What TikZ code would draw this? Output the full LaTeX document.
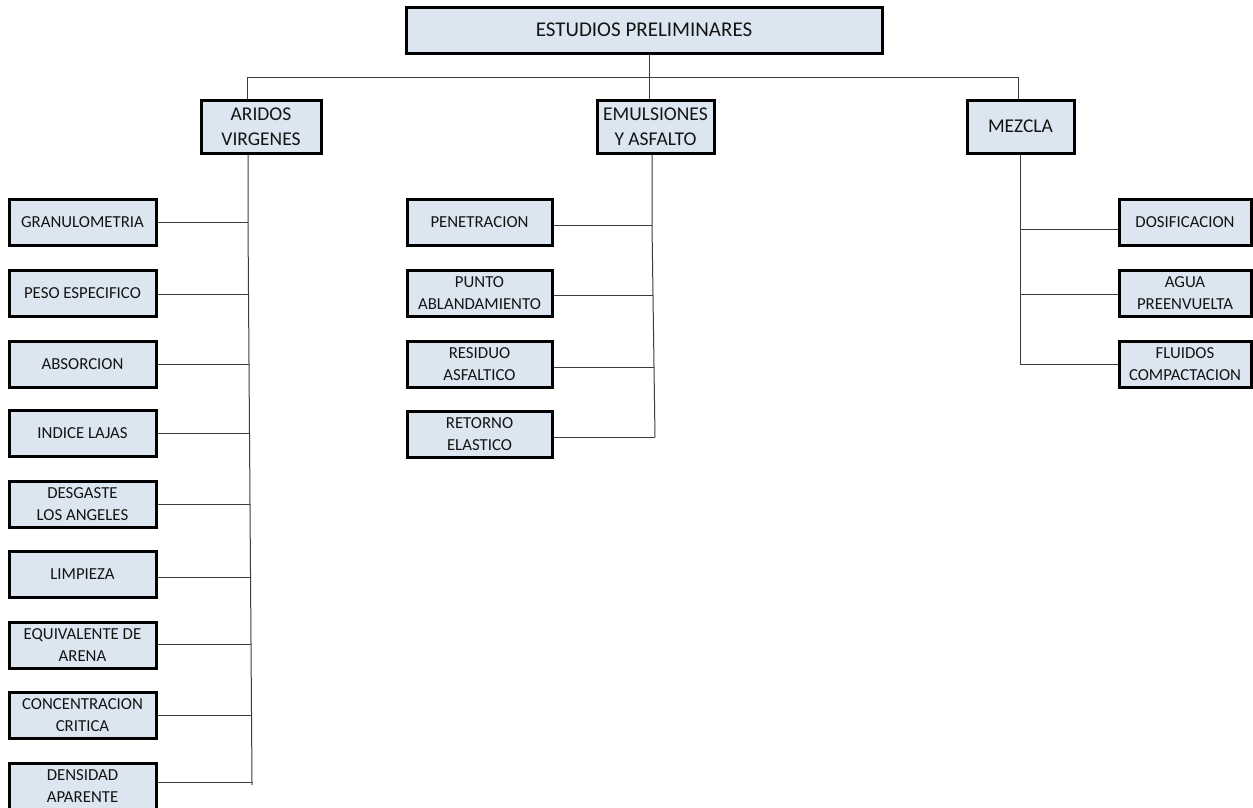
\documentclass[tikz,border=0pt]{standalone}
\usepackage{fontspec}
\setmainfont{Carlito}
\definecolor{boxfill}{RGB}{220,230,241}
\definecolor{wire}{RGB}{60,60,60}
\tikzset{
  box/.style={draw=black, line width=3pt, fill=boxfill, inner sep=0pt,
              align=center, text=black!92},
  titlebox/.style={box, minimum width=476pt, minimum height=46pt,
              font=\fontsize{21}{25}\selectfont},
  midbox/.style={box, minimum height=53pt,
              font=\fontsize{19.5}{24.5}\selectfont},
  leafL/.style={box, minimum width=147pt, minimum height=46pt,
              font=\fontsize{16.8}{22}\selectfont},
  leafM/.style={leafL, minimum width=145pt},
  leafR/.style={leafL, minimum width=132pt},
  wireline/.style={draw=wire, line width=1pt},
}
\begin{document}
\begin{tikzpicture}[x=1pt,y=-1pt]
\useasboundingbox (0,0) rectangle (1253,807);
\fill[white] (0,0) rectangle (1253,807);

% top level
\node[titlebox] (root) at (644,30) {ESTUDIOS PRELIMINARES};

% second level
\node[midbox, minimum width=120pt] (arid) at (261,126.5) {ARIDOS\\VIRGENES};
\node[midbox, minimum width=117pt] (emul) at (655.5,126.5) {EMULSIONES\\Y ASFALTO};
\node[midbox, minimum width=107pt] (mezc) at (1020.5,126.5) {MEZCLA};

% bus
\coordinate (busL) at (247,77);
\coordinate (busM) at (649,77);
\coordinate (busR) at (1018,77);
\draw[wireline] (busL) -- (busR);
\draw[wireline] (root.south -| busM) -- (busM);
\draw[wireline] (busM) -- (emul.north -| busM);
\draw[wireline] (busL) -- (arid.north -| busL);
\draw[wireline] (busR) -- (mezc.north -| busR);

% left column: aridos
\node[leafL] (g1) at (82.5,222.5) {GRANULOMETRIA};
\node[leafL] (g2) at (82.5,293.5) {PESO ESPECIFICO};
\node[leafL] (g3) at (82.5,364) {ABSORCION};
\node[leafL] (g4) at (82.5,433.5) {INDICE LAJAS};
\node[leafL] (g5) at (82.5,504) {DESGASTE\\LOS ANGELES};
\node[leafL] (g6) at (82.5,574.5) {LIMPIEZA};
\node[leafL] (g7) at (82.5,645) {EQUIVALENTE DE\\ARENA};
\node[leafL] (g8) at (82.5,715) {CONCENTRACION\\CRITICA};
\node[leafL] (g9) at (82.5,786) {DENSIDAD\\APARENTE};

\coordinate (tL1) at (248,222);
\coordinate (tL2) at (248,294);
\coordinate (tL3) at (249,364);
\coordinate (tL4) at (250,433);
\coordinate (tL5) at (250,504);
\coordinate (tL6) at (251,577);
\coordinate (tL7) at (251,644);
\coordinate (tL8) at (252,715);
\coordinate (tL9) at (252,782);
\draw[wireline] (arid.south -| tL1) -- (tL1) -- (tL5) -- (tL9) -- ++(0,3);
\foreach \i in {1,...,9} \draw[wireline] (g\i.east |- tL\i) -- (tL\i);

% middle column: emulsiones y asfalto
\node[leafM] (e1) at (479.5,222.5) {PENETRACION};
\node[leafM] (e2) at (479.5,293.5) {PUNTO\\ABLANDAMIENTO};
\node[leafM] (e3) at (479.5,364) {RESIDUO\\ASFALTICO};
\node[leafM] (e4) at (479.5,434) {RETORNO\\ELASTICO};

\coordinate (tM1) at (652,225);
\coordinate (tM2) at (653,295);
\coordinate (tM3) at (654,367);
\coordinate (tM4) at (655,437);
\draw[wireline] (emul.south -| 652,0) -- (tM1) -- (tM4);
\foreach \i in {1,...,4} \draw[wireline] (e\i.east |- tM\i) -- (tM\i);

% right column: mezcla
\node[leafR] (m1) at (1185,222.5) {DOSIFICACION};
\node[leafR] (m2) at (1185,293.5) {AGUA\\PREENVUELTA};
\node[leafR] (m3) at (1185,364) {FLUIDOS\\COMPACTACION};

\coordinate (tR1) at (1020,229);
\coordinate (tR2) at (1020,294);
\coordinate (tR3) at (1020,364);
\draw[wireline] (mezc.south -| tR1) -- (tR3);
\foreach \i in {1,...,3} \draw[wireline] (tR\i) -- (m\i.west |- tR\i);
\end{tikzpicture}
\end{document}
